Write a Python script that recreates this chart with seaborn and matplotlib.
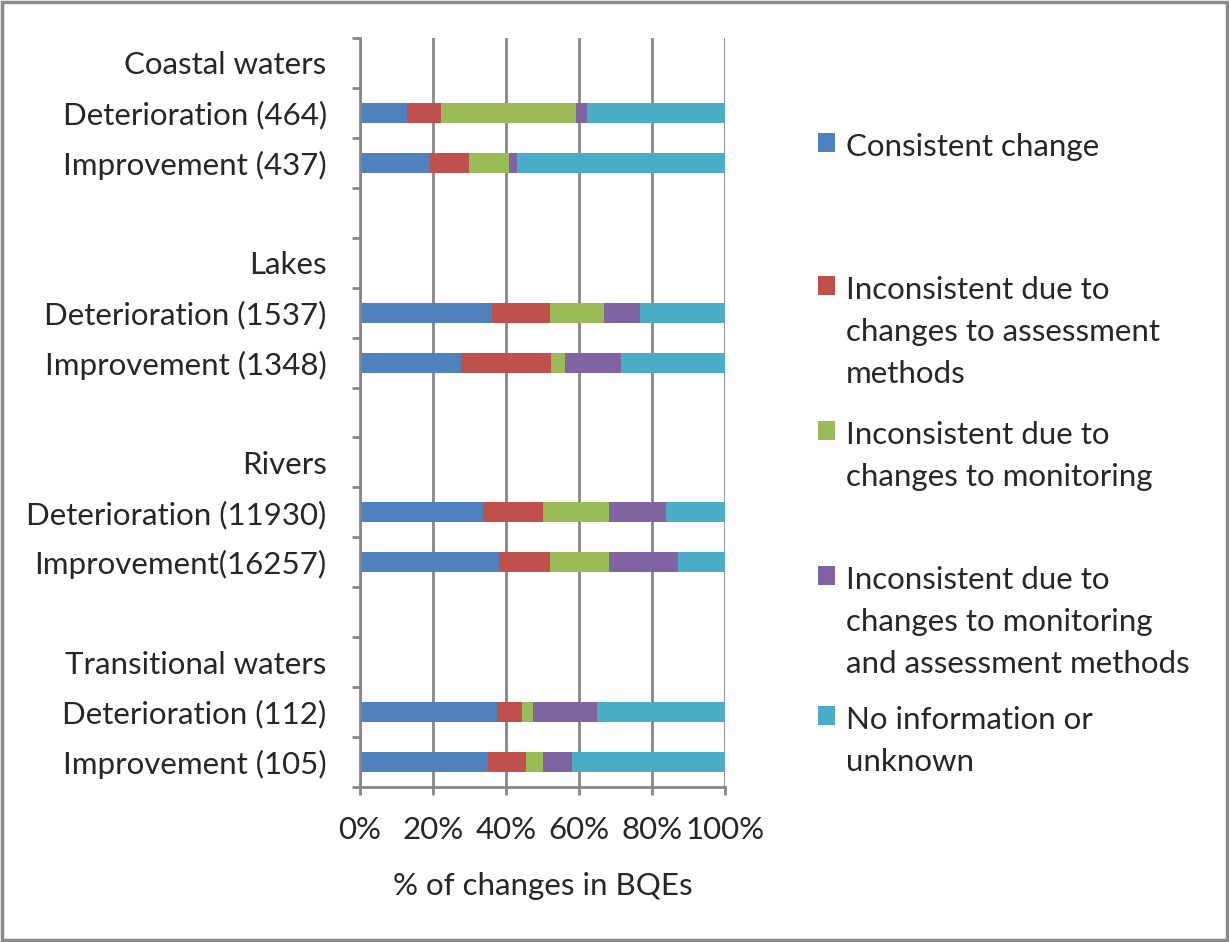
import pandas as pd
import matplotlib.pyplot as plt
import seaborn as sns
from matplotlib.patches import Rectangle

# y axis rows, top to bottom (group headers and blank spacer rows carry no bars)
row_labels = ["Coastal waters", "Deterioration (464)", "Improvement (437)", "",
              "Lakes", "Deterioration (1537)", "Improvement (1348)", "",
              "Rivers", "Deterioration (11930)", "Improvement(16257)", "",
              "Transitional waters", "Deterioration (112)", "Improvement (105)"]
bar_rows = [1, 2, 5, 6, 9, 10, 13, 14]

series_names = ["Consistent change",
                "Inconsistent due to\nchanges to assessment\nmethods",
                "Inconsistent due to\nchanges to monitoring",
                "Inconsistent due to\nchanges to monitoring\nand assessment methods",
                "No information or\nunknown"]
consistent = [12.8, 19.3, 36.1, 27.7, 33.8, 38.1, 37.5, 35.2]
assessment = [9.3, 10.7, 15.9, 24.7, 16.3, 14.0, 7.0, 10.2]
monitoring = [37.0, 10.8, 14.9, 3.8, 18.2, 16.2, 2.9, 4.7]
mon_and_assess = [3.1, 2.3, 9.9, 15.4, 15.4, 18.8, 17.6, 8.0]
unknown = [37.8, 56.9, 23.2, 28.4, 16.3, 12.9, 35.0, 41.9]

colors = ["#4F81BD", "#C0504D", "#9BBB59", "#8064A2", "#4BACC6"]

##

sns.set_style("white")
plt.rcParams["font.family"] = ["Lato", "DejaVu Sans"]
fs = 22.5

row_ids = ["r%d" % i for i in range(len(row_labels))]
df = pd.DataFrame({"row": row_ids})
all_series = [consistent, assessment, monitoring, mon_and_assess, unknown]
for name, vals in zip(series_names, all_series):
    col = [0.0] * len(row_ids)
    for r, v in zip(bar_rows, vals):
        col[r] = v
    df[name] = col

# cumulative sums so the bars can be overlaid from right to left
cum = df[series_names].cumsum(axis=1)
cum["row"] = df["row"]

fig = plt.figure(figsize=(12.29, 9.42), dpi=100)
ax = fig.add_axes([360 / 1229, 1 - 787 / 942, 365 / 1229, 749 / 942])

for name, color in reversed(list(zip(series_names, colors))):
    sns.barplot(data=cum, x=name, y="row", order=row_ids, orient="h",
                color=color, width=0.4, linewidth=0, saturation=1,
                label=name, ax=ax)
if ax.get_legend() is not None:
    ax.get_legend().remove()

gray = "#868686"
ax.set_xlim(0, 100)
ax.set_xticks(range(0, 101, 20))
ax.set_xticklabels(["%d%%" % v for v in range(0, 101, 20)])
ax.xaxis.grid(True, color=gray, linewidth=2)
ax.set_axisbelow(True)
ax.set_yticks(range(len(row_labels)))
ax.set_yticklabels(row_labels)
ax.set_yticks([i - 0.5 for i in range(len(row_labels) + 1)], minor=True)
ax.tick_params(axis="y", which="major", length=0, pad=24, labelsize=fs)
ax.tick_params(axis="y", which="minor", length=6, width=2, color=gray, left=True)
ax.tick_params(axis="x", length=6, width=2, color=gray, bottom=True,
               pad=15, labelsize=fs)
for side in ["top", "right"]:
    ax.spines[side].set_visible(False)
for side in ["left", "bottom"]:
    ax.spines[side].set_color(gray)
    ax.spines[side].set_linewidth(2)

ax.set_xlabel("% of changes in BQEs", fontsize=fs, labelpad=20)
ax.set_ylabel("")

# legend entries sit at uneven heights, one legend per entry
handles, labels = ax.get_legend_handles_labels()
handles = handles[::-1]
labels = labels[::-1]
legend_y = [144, 287, 432, 577, 717]
for h, lab, y in zip(handles, labels, legend_y):
    leg = fig.legend([h], [lab], loc="upper left",
                     bbox_to_anchor=(818 / 1229, 1 - (y - 11) / 942),
                     frameon=False, fontsize=fs, handlelength=0.55,
                     handleheight=0.55, handletextpad=0.35,
                     borderpad=0, borderaxespad=0)
    for t in leg.get_texts():
        t.set_linespacing(1.6)
    # keep the colour square beside the first line of the label
    for box in leg._legend_handle_box.get_children():
        for row in box.get_children():
            row.align = "top"

fig.patches.append(Rectangle((0.002, 0.002), 0.996, 0.996, transform=fig.transFigure,
                             fill=False, edgecolor="#8c8c8c", linewidth=2.5))

plt.savefig("out.png", dpi=100)
